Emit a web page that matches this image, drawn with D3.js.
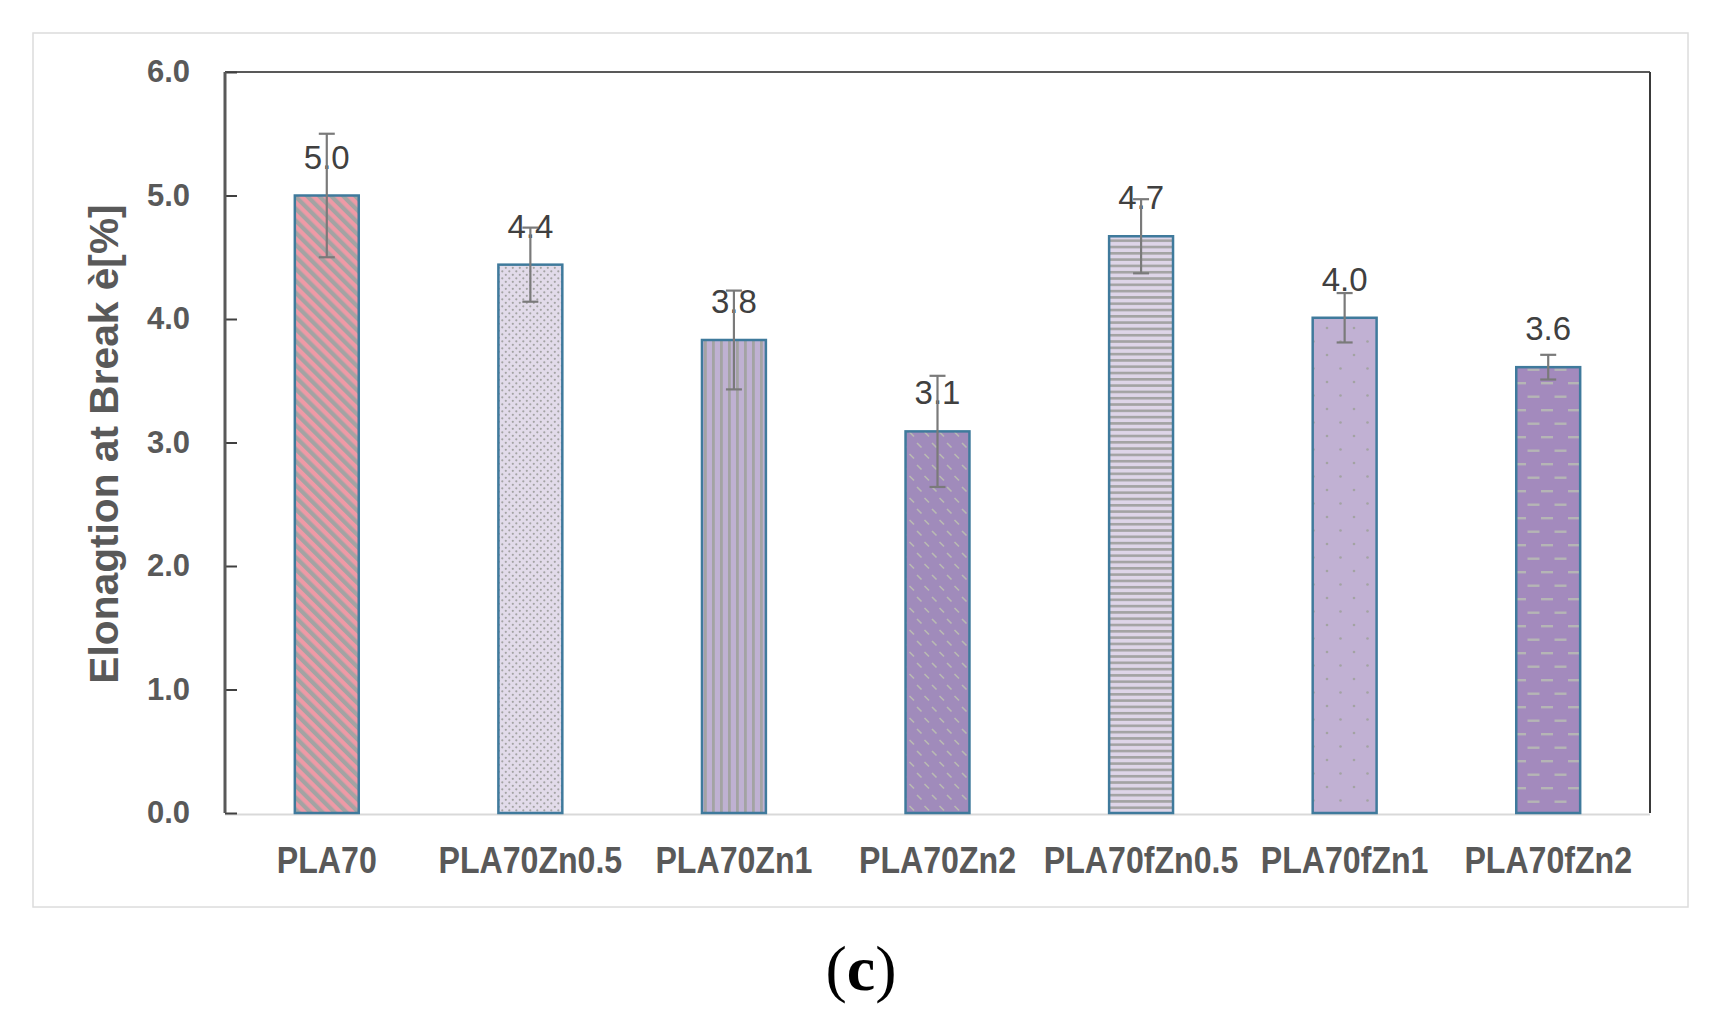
<!DOCTYPE html>
<html>
<head>
<meta charset="utf-8">
<script src="https://cdn.jsdelivr.net/npm/d3@7"></script>
<style>
  body { margin: 0; background: #fff; }
  svg { display: block; }
</style>
</head>
<body>
<script>
// ---------- data ----------
const categories = ['PLA70', 'PLA70Zn0.5', 'PLA70Zn1', 'PLA70Zn2', 'PLA70fZn0.5', 'PLA70fZn1', 'PLA70fZn2'];
const values = [5.0, 4.44, 3.83, 3.09, 4.67, 4.01, 3.61];
const errors = [0.5, 0.3, 0.4, 0.45, 0.3, 0.2, 0.1];
const yTicks = [0, 1, 2, 3, 4, 5, 6];
const yTitle = 'Elonagtion at Break è[%]';

const width = 1721, height = 1031;
const plotLeft = 225, plotRight = 1650, plotTop = 72, plotBottom = 813;

let svg = d3.select('body').append('svg')
  .attr('width', width).attr('height', height);

svg.append('rect').attr('width', width).attr('height', height).attr('fill', '#fff');

// outer frame
svg.append('rect')
  .attr('x', 33).attr('y', 33).attr('width', 1655).attr('height', 874)
  .attr('fill', 'none').attr('stroke', '#dcdcdc').attr('stroke-width', 1.5);

// ---------- patterns ----------
let defs = svg.append('defs');
const grey = '#a3a3a3';

function pattern(id, w, h, bg) {
  let p = defs.append('pattern').attr('id', id)
    .attr('patternUnits', 'userSpaceOnUse')
    .attr('width', w).attr('height', h);
  p.append('rect').attr('width', w).attr('height', h).attr('fill', bg);
  return p;
}

// wide downward diagonal
pattern('p0', 8.5, 8.5, '#ee9aa6').attr('patternTransform', 'rotate(-45)')
  .append('rect').attr('width', 4.2).attr('height', 8.5).attr('fill', grey);

// small dots
let p1 = pattern('p1', 7, 7, '#e2dbea');
p1.append('circle').attr('cx', 1.8).attr('cy', 1.8).attr('r', 1.1).attr('fill', grey);
p1.append('circle').attr('cx', 5.3).attr('cy', 5.3).attr('r', 1.1).attr('fill', grey);

// vertical lines
pattern('p2', 8, 8, '#bfb1d2')
  .append('rect').attr('width', 2.8).attr('height', 8).attr('fill', grey);

// dashed downward diagonal
let p3 = pattern('p3', 15, 22, '#a08bbb');
[[2, 3], [9.5, 14]].forEach(function (o) {
  p3.append('line')
    .attr('x1', o[0]).attr('y1', o[1]).attr('x2', o[0] + 4.5).attr('y2', o[1] + 4.5)
    .attr('stroke', '#b9bab2').attr('stroke-width', 1.6);
});

// horizontal lines
pattern('p4', 6.3, 6.3, '#ded5e8')
  .append('rect').attr('width', 6.3).attr('height', 2.6).attr('fill', grey);

// sparse dots
let p5 = pattern('p5', 27, 27, '#c1b1d3');
p5.append('circle').attr('cx', 4).attr('cy', 4).attr('r', 1.3).attr('fill', grey);
p5.append('circle').attr('cx', 17.5).attr('cy', 17.5).attr('r', 1.3).attr('fill', grey);

// dashes
let p6 = pattern('p6', 27, 27, '#a38abd');
p6.append('rect').attr('x', 2).attr('y', 4).attr('width', 12).attr('height', 2.4).attr('fill', '#b5b5b5');
p6.append('rect').attr('x', 15.5).attr('y', 17.5).attr('width', 12).attr('height', 2.4).attr('fill', '#b5b5b5');
p6.append('rect').attr('x', -11.5).attr('y', 17.5).attr('width', 12).attr('height', 2.4).attr('fill', '#b5b5b5');

const fills = ['p0', 'p1', 'p2', 'p3', 'p4', 'p5', 'p6'];

// ---------- scales ----------
let x = d3.scaleBand()
  .domain(categories)
  .range([plotLeft, plotRight])
  .paddingInner(0.686)
  .paddingOuter(0.343);

let y = d3.scaleLinear().domain([0, 6]).range([plotBottom, plotTop]);

let data = categories.map(function (c, i) {
  return { cat: c, value: values[i], err: errors[i], fill: fills[i] };
});

// ---------- plot frame ----------
svg.append('line').attr('x1', plotLeft).attr('x2', plotRight).attr('y1', plotBottom + 1.5).attr('y2', plotBottom + 1.5)
  .attr('stroke', '#d9d9d9').attr('stroke-width', 2);
svg.append('line').attr('x1', plotLeft).attr('x2', plotRight).attr('y1', plotTop).attr('y2', plotTop)
  .attr('stroke', '#222').attr('stroke-width', 1.5);
svg.append('line').attr('x1', plotRight).attr('x2', plotRight).attr('y1', plotTop).attr('y2', plotBottom)
  .attr('stroke', '#3a3a3a').attr('stroke-width', 2);

// ---------- bars ----------
svg.append('g').selectAll('rect')
  .data(data).enter().append('rect')
  .attr('x', d => x(d.cat))
  .attr('y', d => y(d.value))
  .attr('width', x.bandwidth())
  .attr('height', d => y(0) - y(d.value))
  .attr('fill', d => `url(#${d.fill})`)
  .attr('stroke', '#3f7a9c')
  .attr('stroke-width', 2.5);

// ---------- value labels ----------
svg.append('g').selectAll('text')
  .data(data).enter().append('text')
  .attr('x', d => x(d.cat) + x.bandwidth() / 2)
  .attr('y', d => y(d.value) - 27)
  .attr('text-anchor', 'middle')
  .style('font-family', '"Liberation Sans", Arial, sans-serif')
  .style('font-size', '33px')
  .style('fill', '#404040')
  .text(d => d3.format('.1f')(d.value));

// ---------- error bars ----------
let eb = svg.append('g').attr('stroke', '#7a7a7a').attr('stroke-width', 2.2);
data.forEach(function (d) {
  let cx = x(d.cat) + x.bandwidth() / 2;
  eb.append('line').attr('x1', cx).attr('x2', cx)
    .attr('y1', y(d.value + d.err)).attr('y2', y(d.value - d.err));
  [d.value + d.err, d.value - d.err].forEach(function (v) {
    eb.append('line').attr('x1', cx - 8).attr('x2', cx + 8)
      .attr('y1', y(v)).attr('y2', y(v));
  });
});

// ---------- axes ----------
let yAxis = svg.append('g')
  .attr('transform', `translate(${plotLeft},0)`)
  .call(d3.axisLeft(y).tickValues(yTicks).tickFormat(d3.format('.1f'))
    .tickSizeInner(-12).tickSizeOuter(0).tickPadding(35));
yAxis.select('.domain').remove();
yAxis.selectAll('.tick line').attr('stroke', '#404040').attr('stroke-width', 2);
yAxis.selectAll('.tick text')
  .style('font-family', '"Liberation Sans", Arial, sans-serif')
  .style('font-weight', 'bold')
  .style('font-size', '31px')
  .style('fill', '#595959');
svg.append('line').attr('x1', plotLeft).attr('x2', plotLeft).attr('y1', plotTop).attr('y2', plotBottom)
  .attr('stroke', '#595959').attr('stroke-width', 3);

let xAxis = svg.append('g')
  .attr('transform', `translate(0,${plotBottom})`)
  .call(d3.axisBottom(x).tickSize(0));
xAxis.select('.domain').remove();
// condensed look: squeeze the bold face horizontally around the tick
xAxis.selectAll('.tick text')
  .attr('y', 60).attr('dy', 0)
  .attr('transform', 'scale(0.88,1)')
  .style('font-family', '"Liberation Sans", Arial, sans-serif')
  .style('font-weight', 'bold')
  .style('font-size', '36.5px')
  .style('fill', '#595959');

// ---------- titles ----------
svg.append('text')
  .attr('transform', `translate(118,${(plotTop + plotBottom) / 2 + 1.5}) rotate(-90)`)
  .attr('text-anchor', 'middle')
  .style('font-family', '"Liberation Sans", Arial, sans-serif')
  .style('font-weight', 'bold')
  .style('font-size', '40.7px')
  .style('fill', '#595959')
  .text(yTitle);

let cap = svg.append('text')
  .attr('x', 861).attr('y', 990)
  .attr('text-anchor', 'middle')
  .style('font-family', '"Liberation Serif", "Times New Roman", serif')
  .style('font-size', '64px')
  .style('fill', '#000');
cap.append('tspan').text('(');
cap.append('tspan').style('font-weight', 'bold').text('c');
cap.append('tspan').text(')');
</script>
</body>
</html>
